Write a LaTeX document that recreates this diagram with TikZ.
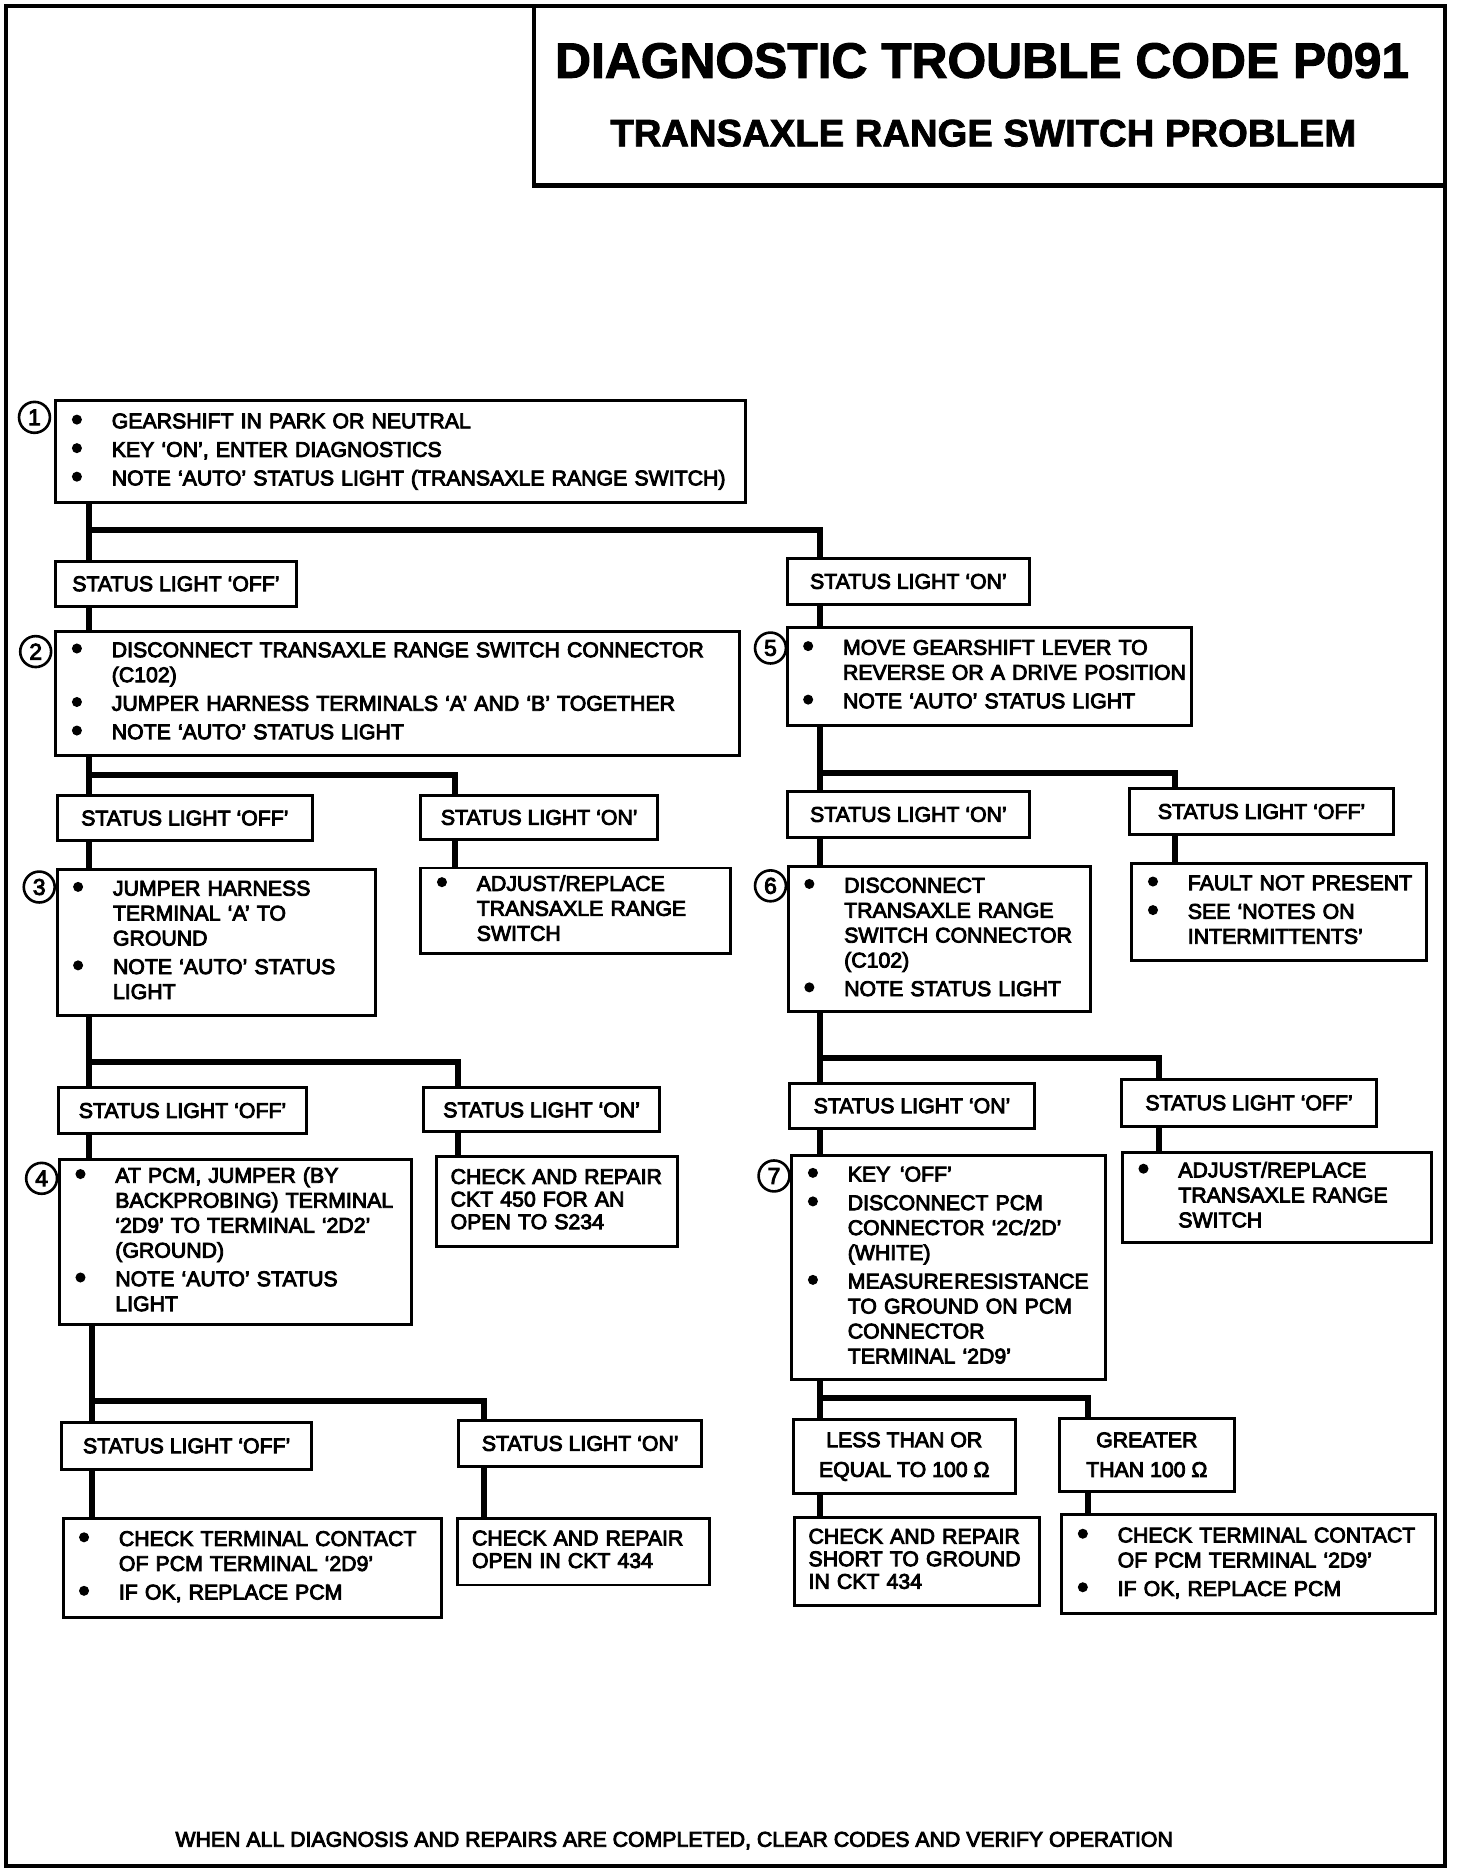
\documentclass[tikz,border=0pt]{standalone}
\usepackage{graphicx}
\usepackage{fontspec}
\setmainfont{Liberation Sans}
\newfontfamily\chartfont{Liberation Sans}[FakeBold=4]
\newfontfamily\headfont{Liberation Sans Bold}[FakeBold=2]

\newdimen\px \px=0.6pt
\newcommand\boxlines[1]{\begin{tabular}{@{}l@{}}#1\end{tabular}}
\newcommand\itm{\makebox[35\px][l]{\hspace{1\px}\raisebox{-1.6\px}{\scalebox{1.5}{\textbullet}}}}
\newcommand\ind{\hspace*{35\px}}
\newcommand\gap{\\[3\px]}
\newcommand\tight{\\[-2\px]}

\begin{document}
\begin{tikzpicture}[
  x=0.6pt, y=-0.6pt,
  every node/.style={font=\chartfont\fontsize{10.74}{12.6}\selectfont, outer sep=0pt},
  box/.style 2 args={draw, line width=2.5*\px, anchor=north west, inner xsep=12*\px, inner ysep=0pt,
    minimum width=#1*\px, text width=#1*\px-24*\px, minimum height=#2*\px, align=left},
  tag/.style 2 args={draw, line width=2.5*\px, anchor=north west, inner sep=0pt,
    minimum width=#1*\px, minimum height=#2*\px, align=center},
  num/.style={draw, circle, line width=2.2*\px, minimum size=26*\px, inner sep=0pt,
    font=\chartfont\fontsize{11.5}{12}\selectfont},
  wire/.style={line width=5*\px},
  outline/.style={line width=3.5*\px}
]
\useasboundingbox (0,0) rectangle (1238,1574.4);

% Frame and heading
\draw[outline] (5,5) rectangle (1215,1569);
\node[draw, outline, anchor=north west, inner sep=0pt, minimum width=766*\px, minimum height=151*\px] (head) at (449,5) {};
\node[font=\headfont\fontsize{25.1}{30}\selectfont] (code) at (826,51) {DIAGNOSTIC TROUBLE CODE P091};
\node[font=\headfont\fontsize{19.3}{23}\selectfont] (problem) at (827,112) {TRANSAXLE RANGE SWITCH PROBLEM};

% Step 1
\node[num] (c1) at (29,351) {1};
\node[box={580}{86}] (step1) at (47,337) {\boxlines{\itm GEARSHIFT IN PARK OR NEUTRAL\gap
  \itm KEY ‘ON’, ENTER DIAGNOSTICS\gap
  \itm NOTE ‘AUTO’ STATUS LIGHT (TRANSAXLE RANGE SWITCH)}};

\node[tag={202}{38}] (off1) at (47,472) {STATUS LIGHT ‘OFF’};
\node[tag={204}{38}] (on1) at (662,470) {STATUS LIGHT ‘ON’};

% Step 2 and step 5
\node[num] (c2) at (30,548) {2};
\node[box={575}{104}] (step2) at (47,531) {\boxlines{\itm DISCONNECT TRANSAXLE RANGE SWITCH CONNECTOR\\
  \ind (C102)\gap
  \itm JUMPER HARNESS TERMINALS ‘A’ AND ‘B’ TOGETHER\gap
  \itm NOTE ‘AUTO’ STATUS LIGHT}};
\node[num] (c5) at (648,545) {5};
\node[box={340}{82}] (step5) at (662,528) {\boxlines{\itm MOVE GEARSHIFT LEVER TO\\
  \ind REVERSE OR A DRIVE POSITION\gap
  \itm NOTE ‘AUTO’ STATUS LIGHT}};

\node[tag={215}{38}] (off2) at (48,669) {STATUS LIGHT ‘OFF’};
\node[tag={199}{37}] (on2) at (354,669) {STATUS LIGHT ‘ON’};
\node[tag={204}{38}] (on5) at (662,666) {STATUS LIGHT ‘ON’};
\node[tag={222}{39}] (off5) at (950,663) {STATUS LIGHT ‘OFF’};

% Step 3 and step 6
\node[num] (c3) at (33,746) {3};
\node[box={268}{123}] (step3) at (48,731) {\boxlines{\itm JUMPER HARNESS\\
  \ind TERMINAL ‘A’ TO\\
  \ind GROUND\gap
  \itm NOTE ‘AUTO’ STATUS\\
  \ind LIGHT}};
\node[box={260}{72}] (adjust2) at (354,730) {\boxlines{\itm ADJUST/REPLACE\\
  \ind TRANSAXLE RANGE\\
  \ind SWITCH}};
\node[num] (c6) at (648,745) {6};
\node[box={254}{122}] (step6) at (663,729) {\boxlines{\itm DISCONNECT\\
  \ind TRANSAXLE RANGE\\
  \ind SWITCH CONNECTOR\\
  \ind (C102)\gap
  \itm NOTE STATUS LIGHT}};
\node[box={248}{82}] (fault) at (952,726) {\boxlines{\itm FAULT NOT PRESENT\gap
  \itm SEE ‘NOTES ON\\
  \ind INTERMITTENTS’}};

\node[tag={209}{38}] (off3) at (49,915) {STATUS LIGHT ‘OFF’};
\node[tag={199}{37}] (on3) at (356,915) {STATUS LIGHT ‘ON’};
\node[tag={206}{38}] (on6) at (664,911) {STATUS LIGHT ‘ON’};
\node[tag={215}{39}] (off6) at (943,908) {STATUS LIGHT ‘OFF’};

% Step 4 and step 7
\node[num] (c4) at (35,991) {4};
\node[box={296}{139}] (step4) at (50,975) {\boxlines{\itm AT PCM, JUMPER (BY\\
  \ind BACKPROBING) TERMINAL\\
  \ind ‘2D9’ TO TERMINAL ‘2D2’\\
  \ind (GROUND)\gap
  \itm NOTE ‘AUTO’ STATUS\\
  \ind LIGHT}};
\node[box={203}{75}] (repair450) at (367,973) {\boxlines{CHECK AND REPAIR\tight
  CKT 450 FOR AN\tight
  OPEN TO S234}};
\node[num] (c7) at (651,989) {7};
\node[box={264}{188}] (step7) at (666,972) {\boxlines{\itm KEY\hspace{8\px}‘OFF’\gap
  \itm DISCONNECT PCM\\
  \ind CONNECTOR ‘2C/2D’\\
  \ind (WHITE)\gap
  \itm MEASURE\hspace{1\px}RESISTANCE\\
  \ind TO GROUND ON PCM\\
  \ind CONNECTOR\\
  \ind TERMINAL ‘2D9’}};
\node[box={260}{76}] (adjust6) at (944,969) {\boxlines{\itm ADJUST/REPLACE\\
  \ind TRANSAXLE RANGE\\
  \ind SWITCH}};

\node[tag={210}{40}] (off4) at (52,1196) {STATUS LIGHT ‘OFF’};
\node[tag={204}{38}] (on4) at (386,1195) {STATUS LIGHT ‘ON’};
\node[tag={187}{62}] (low7) at (667,1194) {LESS THAN OR\\[4\px] EQUAL TO 100 Ω};
\node[tag={147}{61}] (high7) at (891,1193) {GREATER\\[4\px] THAN 100 Ω};

% Last repairs
\node[box={318}{83}] (replace4) at (53,1277) {\boxlines{\itm CHECK TERMINAL CONTACT\\
  \ind OF PCM TERMINAL ‘2D9’\gap
  \itm IF OK, REPLACE PCM}};
\node[box={212}{56}] (repair434) at (385,1277) {\boxlines{CHECK AND REPAIR\tight
  OPEN IN CKT 434}};
\node[box={206}{74}] (short) at (668,1276) {\boxlines{CHECK AND REPAIR\tight
  SHORT TO GROUND\tight
  IN CKT 434}};
\node[box={314}{83}] (replace7) at (893,1274) {\boxlines{\itm CHECK TERMINAL CONTACT\\
  \ind OF PCM TERMINAL ‘2D9’\gap
  \itm IF OK, REPLACE PCM}};

\node (done) at (567,1548) {WHEN ALL DIAGNOSIS AND REPAIRS ARE COMPLETED, CLEAR CODES AND VERIFY OPERATION};

% Branches from step 1
\coordinate (j1) at (75,446);
\coordinate (k1) at (690,446);
\draw[wire] (step1.south -| j1) -- (off1.north -| j1);
\draw[wire] (j1) -- (k1) -- (on1.north -| k1);
\draw[wire] (off1.south -| j1) -- (step2.north -| j1);
\draw[wire] (on1.south -| k1) -- (step5.north -| k1);

% Branches from step 2
\coordinate (j2) at (75,652);
\coordinate (k2) at (383,652);
\draw[wire] (step2.south -| j2) -- (off2.north -| j2);
\draw[wire] (j2) -- (k2) -- (on2.north -| k2);
\draw[wire] (off2.south -| j2) -- (step3.north -| j2);
\draw[wire] (on2.south -| k2) -- (adjust2.north -| k2);

% Branches from step 5
\coordinate (j5) at (690,650);
\coordinate (k5) at (988,650);
\draw[wire] (step5.south -| j5) -- (on5.north -| j5);
\draw[wire] (j5) -- (k5) -- (off5.north -| k5);
\draw[wire] (on5.south -| j5) -- (step6.north -| j5);
\draw[wire] (off5.south -| k5) -- (fault.north -| k5);

% Branches from step 3
\coordinate (j3) at (75,893);
\coordinate (k3) at (385,893);
\draw[wire] (step3.south -| j3) -- (off3.north -| j3);
\draw[wire] (j3) -- (k3) -- (on3.north -| k3);
\draw[wire] (off3.south -| j3) -- (step4.north -| j3);
\draw[wire] (on3.south -| k3) -- (repair450.north -| k3);

% Branches from step 6
\coordinate (j6) at (690,890);
\coordinate (k6) at (975,890);
\draw[wire] (step6.south -| j6) -- (on6.north -| j6);
\draw[wire] (j6) -- (k6) -- (off6.north -| k6);
\draw[wire] (on6.south -| j6) -- (step7.north -| j6);
\draw[wire] (off6.south -| k6) -- (adjust6.north -| k6);

% Branches from step 4
\coordinate (j4) at (77,1178);
\coordinate (k4) at (407,1178);
\draw[wire] (step4.south -| j4) -- (off4.north -| j4);
\draw[wire] (j4) -- (k4) -- (on4.north -| k4);
\draw[wire] (off4.south -| j4) -- (replace4.north -| j4);
\draw[wire] (on4.south -| k4) -- (repair434.north -| k4);

% Branches from step 7
\coordinate (j7) at (690,1176);
\coordinate (k7) at (915,1176);
\draw[wire] (step7.south -| j7) -- (low7.north -| j7);
\draw[wire] (j7) -- (k7) -- (high7.north -| k7);
\draw[wire] (low7.south -| j7) -- (short.north -| j7);
\draw[wire] (high7.south -| k7) -- (replace7.north -| k7);

\end{tikzpicture}
\end{document}
